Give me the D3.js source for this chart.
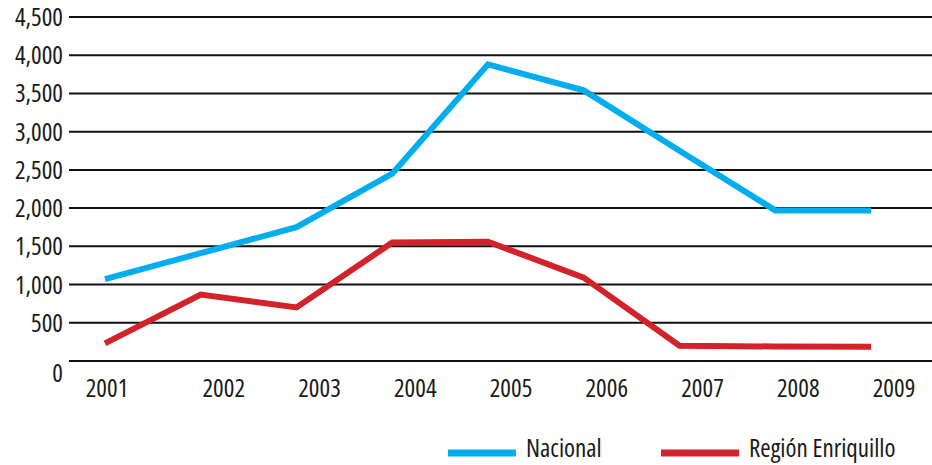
<!DOCTYPE html>
<html>
<head>
<meta charset="utf-8">
<script src="https://cdn.jsdelivr.net/npm/d3@7"></script>
<style>
  body { margin: 0; background: #fff; }
  text { font-family: "Open Sans", sans-serif; font-stretch: condensed; fill: #1a1a1a; }
</style>
</head>
<body>
<svg id="chart" width="932" height="465"></svg>
<script>
const years = [2001, 2002, 2003, 2004, 2005, 2006, 2007, 2008, 2009];
const nacional = [1070, 1410, 1750, 2450, 3880, 3540, 2750, 1970, 1970];
const enriquillo = [230, 870, 700, 1550, 1560, 1090, 200, 190, 185];
const yTicks = [0, 500, 1000, 1500, 2000, 2500, 3000, 3500, 4000, 4500];
const seriesNames = ["Nacional", "Región Enriquillo"];
const colors = ["#00aeef", "#d2232a"];

const svg = d3.select("#chart");

const x = d3.scalePoint().domain(years).range([105, 871]);
const y = d3.scaleLinear().domain([0, 4500]).range([361, 17]);

// gridlines
svg.append("g")
  .selectAll("line")
  .data(yTicks)
  .join("line")
  .attr("x1", 69)
  .attr("x2", 932)
  .attr("y1", (d) => y(d))
  .attr("y2", (d) => y(d))
  .attr("stroke", "#111")
  .attr("stroke-width", 2);

// y labels
svg.append("g")
  .selectAll("text")
  .data(yTicks)
  .join("text")
  .attr("x", 63)
  .attr("y", (d) => y(d))
  .attr("dy", (d) => (d === 0 ? "0.82em" : "0.36em"))
  .attr("text-anchor", "end")
  .attr("font-size", 25)
  .text((d) => d3.format(",")(d));

// x labels, shifted right like the source
svg.append("g")
  .selectAll("text")
  .data(years)
  .join("text")
  .attr("x", (d, i) => x(d) + (i === 0 ? 2 : 23))
  .attr("y", 397)
  .attr("text-anchor", "middle")
  .attr("font-size", 25)
  .text((d) => d);

const line = d3.line()
  .x((d, i) => x(years[i]))
  .y((d) => y(d));

svg.selectAll("path.series")
  .data([nacional, enriquillo])
  .join("path")
  .attr("class", "series")
  .attr("fill", "none")
  .attr("stroke", (d, i) => colors[i])
  .attr("stroke-width", 6)
  .attr("d", line);

// legend
const legend = svg.append("g")
  .selectAll("g")
  .data(seriesNames)
  .join("g")
  .attr("transform", (d, i) => `translate(${i === 0 ? 448 : 661},453)`);

legend.append("line")
  .attr("x1", 0)
  .attr("x2", (d, i) => (i === 0 ? 68 : 78))
  .attr("stroke", (d, i) => colors[i])
  .attr("stroke-width", 7);

legend.append("text")
  .attr("x", (d, i) => (i === 0 ? 78 : 88))
  .attr("y", 4)
  .attr("font-size", 25)
  .text((d) => d);
</script>
</body>
</html>
